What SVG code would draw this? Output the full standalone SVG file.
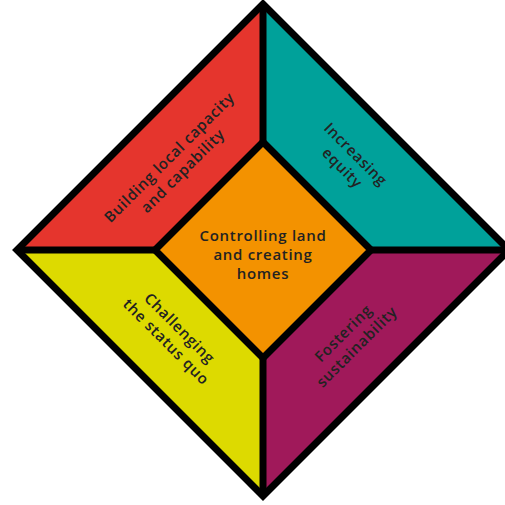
<svg xmlns="http://www.w3.org/2000/svg" width="505" height="505" viewBox="0 0 505 505">
<style>
.lbl{font-family:"Open Sans","Liberation Sans",sans-serif;font-size:15px;font-weight:600;letter-spacing:0.7px;fill:#222;text-anchor:middle}
.ln{fill:none;stroke:#000;stroke-width:7;stroke-linejoin:miter}
</style>
<rect width="505" height="505" fill="#fff"/>
<g id="building">
<polygon points="263,4 263,142 155,250 17,250" fill="#E5352D"/>
<text class="lbl" transform="translate(173,161) rotate(-45)"><tspan x="0" y="0">Building local capacity</tspan><tspan x="0" y="19">and capability</tspan></text>
</g>
<g id="equity">
<polygon points="263,4 509,250 371,250 263,142" fill="#00A19A"/>
<text class="lbl" transform="translate(352,158) rotate(45)"><tspan x="0" y="0">Increasing</tspan><tspan x="0" y="19">equity</tspan></text>
</g>
<g id="challenging">
<polygon points="17,250 155,250 263,358 263,496" fill="#DDDA00"/>
<text class="lbl" transform="translate(176,332) rotate(45)"><tspan x="0" y="0">Challenging</tspan><tspan x="0" y="19">the status quo</tspan></text>
</g>
<g id="sustainability">
<polygon points="263,496 263,358 371,250 509,250" fill="#A0195A"/>
<text class="lbl" transform="translate(347,337) rotate(-45)"><tspan x="0" y="0">Fostering</tspan><tspan x="0" y="19">sustainability</tspan></text>
</g>
<g id="center">
<polygon points="263,142 371,250 263,358 155,250" fill="#F39200"/>
<text class="lbl"><tspan x="263" y="241">Controlling land</tspan><tspan x="263" y="260">and creating</tspan><tspan x="263" y="279">homes</tspan></text>
</g>
<g id="connectors">
<polygon class="ln" points="263,4 509,250 263,496 17,250"/>
<polygon class="ln" points="263,142 371,250 263,358 155,250"/>
<path class="ln" d="M263,4V142M263,358V496M17,250H155M371,250H509"/>
</g>
</svg>
